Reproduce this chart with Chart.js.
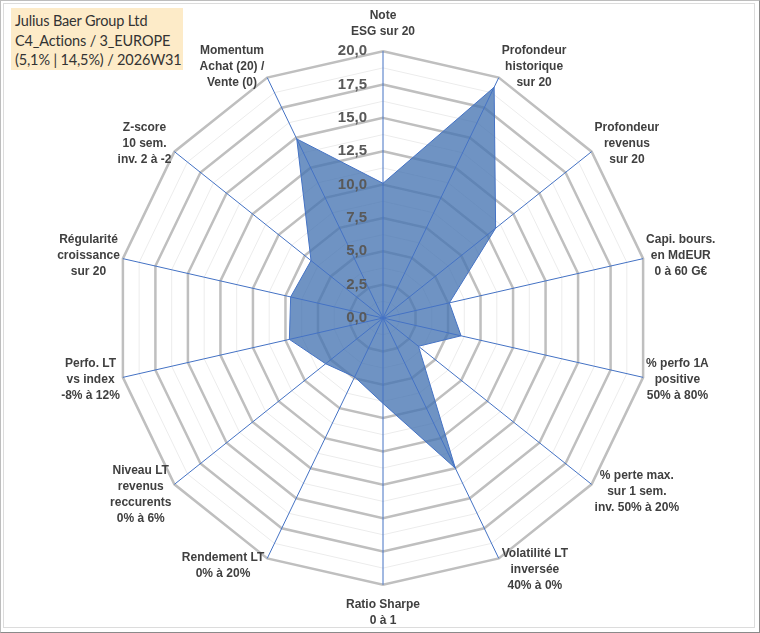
<!DOCTYPE html>
<html lang="fr">
<head>
<meta charset="utf-8">
<title>Julius Baer Group Ltd - radar</title>
<script src="https://cdn.jsdelivr.net/npm/chart.js@4/dist/chart.umd.min.js"></script>
<style>
    html, body { margin: 0; padding: 0; background: #fff; }
    #cadre { position: relative; width: 760px; height: 633px; box-sizing: border-box; }
    #cadre canvas { position: absolute; left: 0; top: 0; }
    #bord { position: absolute; left: 0; top: 0; width: 760px; height: 633px; box-sizing: border-box;
            border: 1px solid #bdbdbd; border-right-color: #8a8a8a; border-bottom-color: #8a8a8a; pointer-events: none; }
    #bord2 { position: absolute; left: 3px; top: 3px; width: 752px; height: 625px; box-sizing: border-box;
             border: 1px solid #dcdcdc; pointer-events: none; }
    #titre { position: absolute; left: 11px; top: 8px; width: 172px; height: 62px; box-sizing: border-box;
             background: #fdebc8; color: #333333; font-family: Lato, "Open Sans", sans-serif; font-size: 14.5px;
             line-height: 19.5px; padding: 3px 0 0 4px; white-space: nowrap; letter-spacing: -0.15px; }
</style>
</head>
<body>
<div id="cadre">
    <canvas id="radar"></canvas>
    <div id="bord"></div>
    <div id="bord2"></div>
    <div id="titre">Julius Baer Group Ltd<br>C4_Actions / 3_EUROPE<br>(5,1% | 14,5%) / 2026W31</div>
</div>
<script>
// Libellés des axes (une ligne par élément)
const axes = [
    ["Note", "ESG sur 20"],
    ["Profondeur", "historique", "sur 20"],
    ["Profondeur", "revenus", "sur 20"],
    ["Capi. bours.", "en MdEUR", "0 à 60 G€"],
    ["% perfo 1A", "positive", "50% à 80%"],
    ["% perte max.", "sur 1 sem.", "inv. 50% à 20%"],
    ["Volatilité LT", "inversée", "40% à 0%"],
    ["Ratio Sharpe", "0 à 1"],
    ["Rendement LT", "0% à 20%"],
    ["Niveau LT", "revenus", "reccurents", "0% à 6%"],
    ["Perfo. LT", "vs index", "-8% à 12%"],
    ["Régularité", "croissance", "sur 20"],
    ["Z-score", "10 sem.", "inv. 2 à -2"],
    ["Momentum", "Achat (20) /", "Vente (0)"],
];

// Notes (échelle 0 à 20)
const notes = [10.1, 19.2, 10.8, 5.1, 6.0, 3.4, 12.5, 6.4, 4.9, 5.5, 7.2, 7.1, 6.9, 14.9];

// Graduations affichées le long de l'axe vertical
const graduations = [0, 2.5, 5, 7.5, 10, 12.5, 15, 17.5, 20];
const echelleMin = 0;
const echelleMax = 20;

const policeLabels = 'bold 12px "Liberation Sans", Arial, sans-serif';
const hauteurLigne = 16;

// Dessine les axes bleus, les graduations et les libellés (centrés, à la façon d'Excel)
const surcouche = {
    id: 'surcouche',
    afterDatasetsDraw(chart) {
        const scale = chart.scales.r;
        const ctx = chart.ctx;
        ctx.save();

        // axes
        ctx.strokeStyle = '#4472c4';
        ctx.lineWidth = 1;
        for (let i = 0; i < axes.length; i++) {
            const p = scale.getPointPositionForValue(i, echelleMax);
            ctx.beginPath();
            ctx.moveTo(scale.xCenter, scale.yCenter);
            ctx.lineTo(p.x, p.y);
            ctx.stroke();
        }

        // graduations à gauche de l'axe vertical
        ctx.font = 'bold 15px "Liberation Sans", Arial, sans-serif';
        ctx.fillStyle = '#595959';
        ctx.textAlign = 'right';
        ctx.textBaseline = 'middle';
        graduations.forEach(v => {
            const d = scale.getDistanceFromCenterForValue(v);
            ctx.fillText(v.toFixed(1).replace('.', ','), scale.xCenter - 16, scale.yCenter - d);
        });

        // libellés des axes
        ctx.font = policeLabels;
        ctx.fillStyle = '#404040';
        ctx.textAlign = 'center';
        for (let i = 0; i < axes.length; i++) {
            const lignes = axes[i];
            const p = scale.getPointPositionForValue(i, echelleMax);
            const angle = i * 2 * Math.PI / axes.length;
            const s = Math.sin(angle);
            const c = Math.cos(angle);
            const w = Math.max(...lignes.map(l => ctx.measureText(l).width));
            const h = lignes.length * hauteurLigne;
            let cx, cy;
            if (Math.abs(s) < 0.01) {
                cx = p.x;
                cy = p.y - c * (h / 2 + 12);
            } else {
                cx = p.x + Math.sign(s) * (w / 2 + 3);
                cy = p.y - c * h / 4;
            }
            lignes.forEach((l, k) => {
                ctx.fillText(l, cx, cy - h / 2 + hauteurLigne * (k + 0.5));
            });
        }
        ctx.restore();
    }
};

new Chart(document.getElementById('radar'), {
    type: 'radar',
    data: {
        labels: axes,
        datasets: [{
            data: notes,
            fill: true,
            backgroundColor: 'rgba(70, 116, 178, 0.78)',
            borderColor: '#4472c4',
            borderWidth: 1,
            pointRadius: 0,
        }],
    },
    options: {
        responsive: true,
        maintainAspectRatio: false,
        animation: false,
        layout: { padding: { top: 10, bottom: 6, left: 14, right: 0 } },
        plugins: {
            legend: { display: false },
            tooltip: { enabled: false },
        },
        scales: {
            r: {
                min: echelleMin,
                max: echelleMax,
                ticks: { stepSize: 1.25, display: false },
                angleLines: { display: false },
                grid: {
                    // traits épais tous les 2,5 et traits fins entre deux
                    color: c => (c.index % 2 === 0 ? '#bfbfbf' : '#ececec'),
                    lineWidth: c => (c.index % 2 === 0 ? 2.5 : 1),
                },
                pointLabels: {
                    // libellés redessinés par le plugin, gardés ici pour le calcul du rayon
                    color: 'rgba(0,0,0,0)',
                    padding: 10,
                    font: { family: '"Liberation Sans", Arial, sans-serif', size: 12, weight: 'bold', lineHeight: 1.3 },
                },
            },
        },
    },
    plugins: [surcouche],
});
</script>
</body>
</html>
